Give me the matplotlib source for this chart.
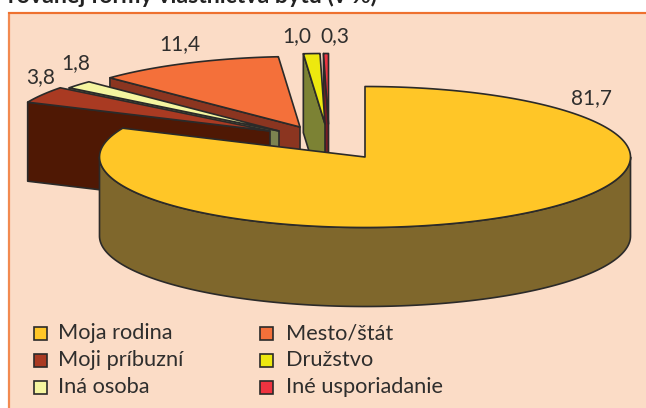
import numpy as np
import matplotlib
matplotlib.use('Agg')
import matplotlib.pyplot as plt
from matplotlib.patches import Polygon, Rectangle

plt.rcParams['font.family'] = ['Lato', 'DejaVu Sans']

# data
kategorie = ['Moja rodina', 'Moji príbuzní', 'Iná osoba', 'Mesto/štát', 'Družstvo', 'Iné usporiadanie']
hodnoty = [81.7, 3.8, 1.8, 11.4, 1.0, 0.3]
popisky = ['81,7', '3,8', '1,8', '11,4', '1,0', '0,3']
titulok = 'rovanej formy vlastníctva bytu (v %)'

# styles
farby_hore = ['#ffc627', '#a93a22', '#f5f5a0', '#f4703a', '#ede80f', '#ee3340']
farby_bok = ['#7f672c', '#4f1804', '#7c8350', '#8b3520', '#7c8234', '#7a1c24']
# stred kazdeho vyrezu v pixeloch (explode)
stredy = [(365, 157), (270, 131), (279, 131), (300, 127), (325, 124), (328.5, 124)]
popisky_xy = [(592, 98), (41, 77), (76, 63), (180, 44), (297, 36), (335, 36)]
RX, RY, HLBKA = 265.5, 70.5, 79
CIARA = '#2b2a29'
TEXT = '#2f2e2d'


def elipsa(cx, cy, a):
    # uhol a je v stupnoch, v smere hodin od vrchu
    a = np.radians(a)
    return np.column_stack([cx + RX*np.sin(a), cy - RY*np.cos(a)])


fig = plt.figure(figsize=(6.46, 4.08), dpi=100)
ax = fig.add_axes([0, 0, 1, 1])
ax.set_xlim(0, 646)
ax.set_ylim(408, 0)
ax.axis('off')

# ramik
ax.add_patch(Rectangle((9, 13), 660, 420, fc='#fbdcc6', ec='#f28a50', lw=1.6))
ax.plot([9, 646], [13, 13], color='#ee6f2c', lw=1.3)

ax.text(8, 3, titulok, fontsize=16.7, fontweight='bold', color='#222222', va='baseline', ha='left')

# uhly vyrezov
hranice = np.concatenate([[0], np.cumsum(hodnoty)]) / sum(hodnoty) * 360

# kreslime odzadu dopredu
for i in [5, 4, 3, 2, 1, 0]:
    cx, cy = stredy[i]
    a0, a1 = hranice[i], hranice[i+1]
    luk = elipsa(cx, cy, np.linspace(a0, a1, 200))
    if i == 0:
        # predna stena hlavneho vyrezu
        predok = elipsa(cx, cy, np.linspace(90, 270, 200))
        bok = np.vstack([predok, (predok + [0, HLBKA])[::-1]])
    else:
        # rezna stena na zaciatku vyrezu
        hrot = elipsa(cx, cy, a0)[0]
        bok = np.array([hrot, [cx, cy], [cx, cy + HLBKA], hrot + [0, HLBKA]])
    ax.add_patch(Polygon(bok, closed=True, fc=farby_bok[i], ec=CIARA, lw=1.2, joinstyle='round'))
    vrch = np.vstack([[cx, cy], luk])
    ax.add_patch(Polygon(vrch, closed=True, fc=farby_hore[i], ec=CIARA, lw=1.2, joinstyle='round'))

for txt, (x, y) in zip(popisky, popisky_xy):
    ax.text(x, y, txt, fontsize=15, color=TEXT, ha='center', va='center')

# legenda
stlpce = [(34, 58), (260, 286)]
riadky = [333, 360, 387]
for i, nazov in enumerate(kategorie):
    xs, xt = stlpce[i // 3]
    y = riadky[i % 3]
    ax.add_patch(Rectangle((xs, y - 6.5), 13, 13, fc=farby_hore[i], ec=CIARA, lw=1.2))
    ax.text(xt, y, nazov, fontsize=15.7, color=TEXT, ha='left', va='center')

fig.savefig('out.png', dpi=100)
